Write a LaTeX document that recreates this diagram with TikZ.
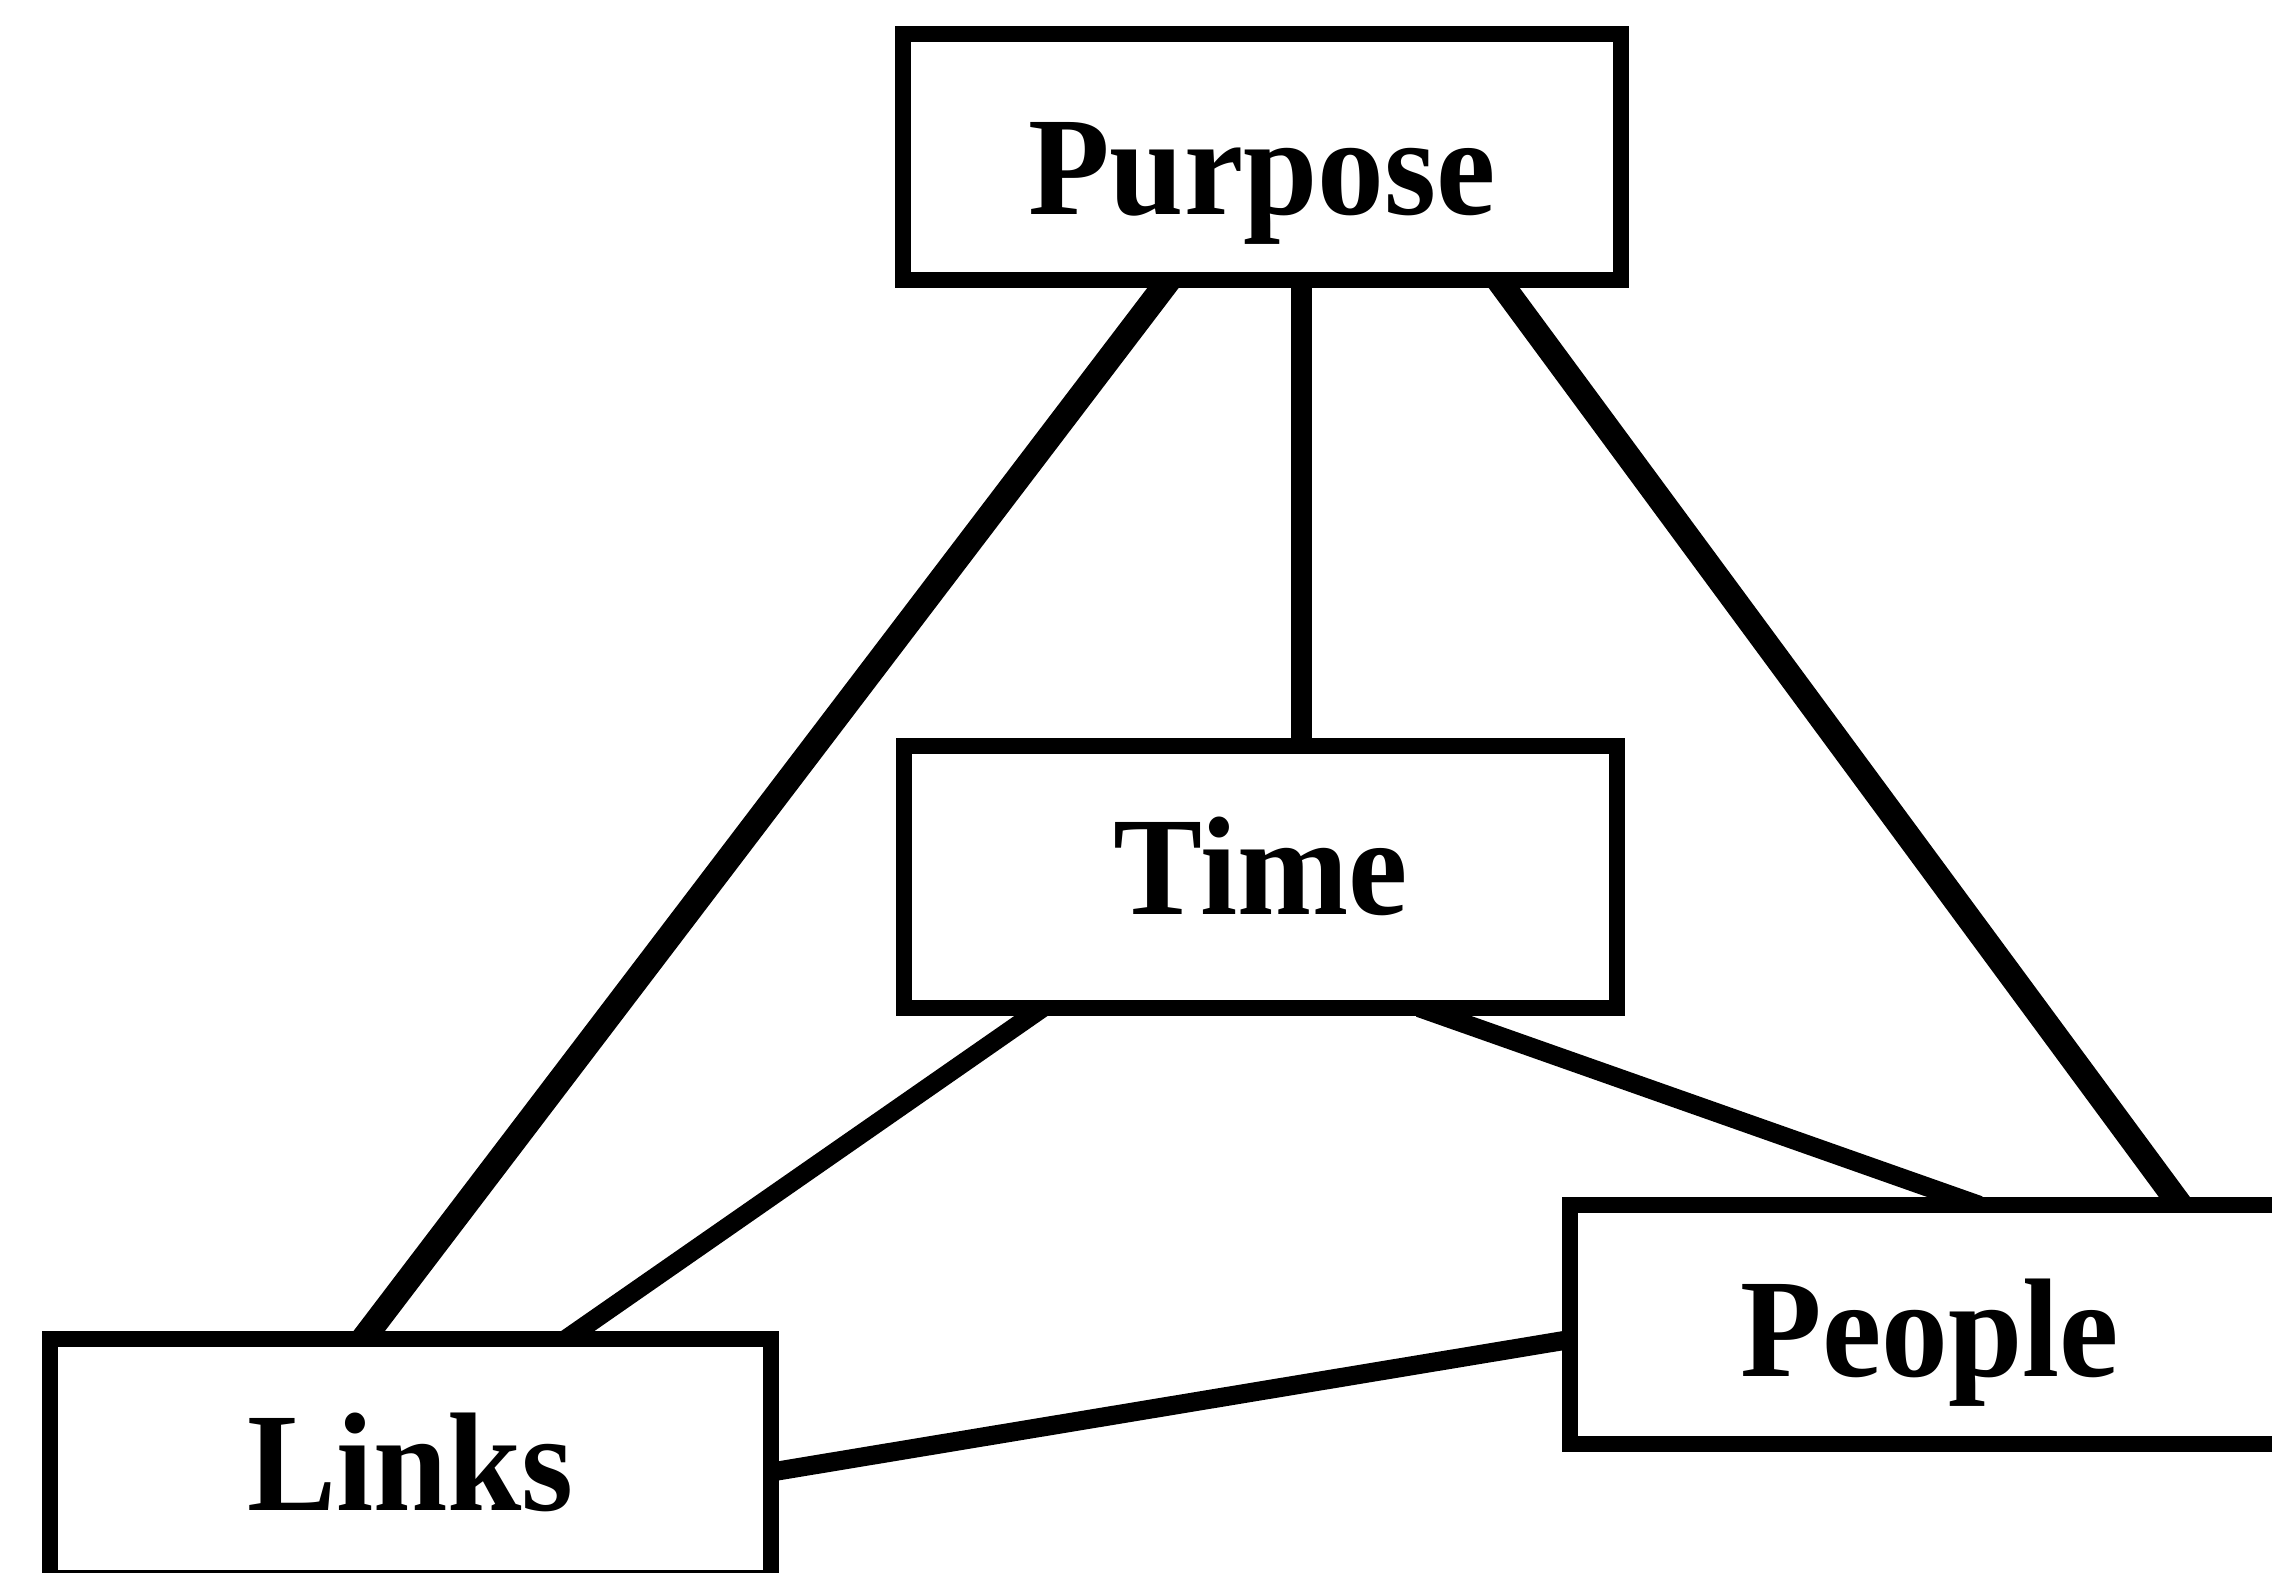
\documentclass[tikz,border=0pt]{standalone}
\usepackage{fontspec}
\setmainfont{Liberation Serif}[FakeStretch=0.95]
\usetikzlibrary{calc,backgrounds}
\begin{document}
\begin{tikzpicture}
\tikzset{
  box/.style={draw, line width=0.16cm, fill=white, inner sep=0pt,
    font=\fontsize{40}{42}\selectfont\bfseries, text depth=0pt},
  joiner/.style={shorten <=-0.25cm, shorten >=-0.25cm},
  heavylink/.style={joiner, line width=0.25cm},
  medlink/.style={joiner, line width=0.19cm},
  vertlink/.style={joiner, line width=0.21cm}
}
\useasboundingbox (0,0) rectangle (22.72,15.72);
\clip (0,0) rectangle (22.72,15.72);

% the four boxes
\node[box, text height=32.8pt, minimum width=7.18cm, minimum height=2.46cm] (purpose) at (12.62,14.15) {Purpose};
\node[box, text height=21.2pt, minimum width=7.13cm, minimum height=2.62cm] (time) at (12.605,6.95) {Time};
\node[box, text height=29.7pt, minimum width=7.20cm, minimum height=2.39cm] (people) at (19.30,2.475) {People};
\node[box, text height=29.7pt, minimum width=7.21cm, minimum height=2.39cm] (links) at (4.105,1.135) {Links};

\begin{scope}[on background layer]
  \fill[white] (0,0) rectangle (22.72,15.72);

  % Purpose down to Time
  \coordinate (pt) at ($(purpose.south west)!0.554!(purpose.south east)$);
  \draw[vertlink] (pt) -- (pt |- time.north);

  % Purpose to Links and People
  \draw[heavylink] ($(purpose.south west)!0.365!(purpose.south east)$) -- ($(links.north west)!0.444!(links.north east)$);
  \draw[heavylink] ($(purpose.south west)!0.830!(purpose.south east)$) -- ($(people.north west)!0.832!(people.north east)$);

  % Time to Links and People
  \draw[medlink] ($(time.south west)!0.185!(time.south east)$) -- ($(links.north west)!0.727!(links.north east)$);
  \draw[medlink] ($(time.south west)!0.75!(time.south east)$) -- ($(people.north west)!0.535!(people.north east)$);

  % Links to People
  \draw[medlink] ($(links.north east)!0.548!(links.south east)$) -- ($(people.north west)!0.564!(people.south west)$);
\end{scope}
\end{tikzpicture}
\end{document}
